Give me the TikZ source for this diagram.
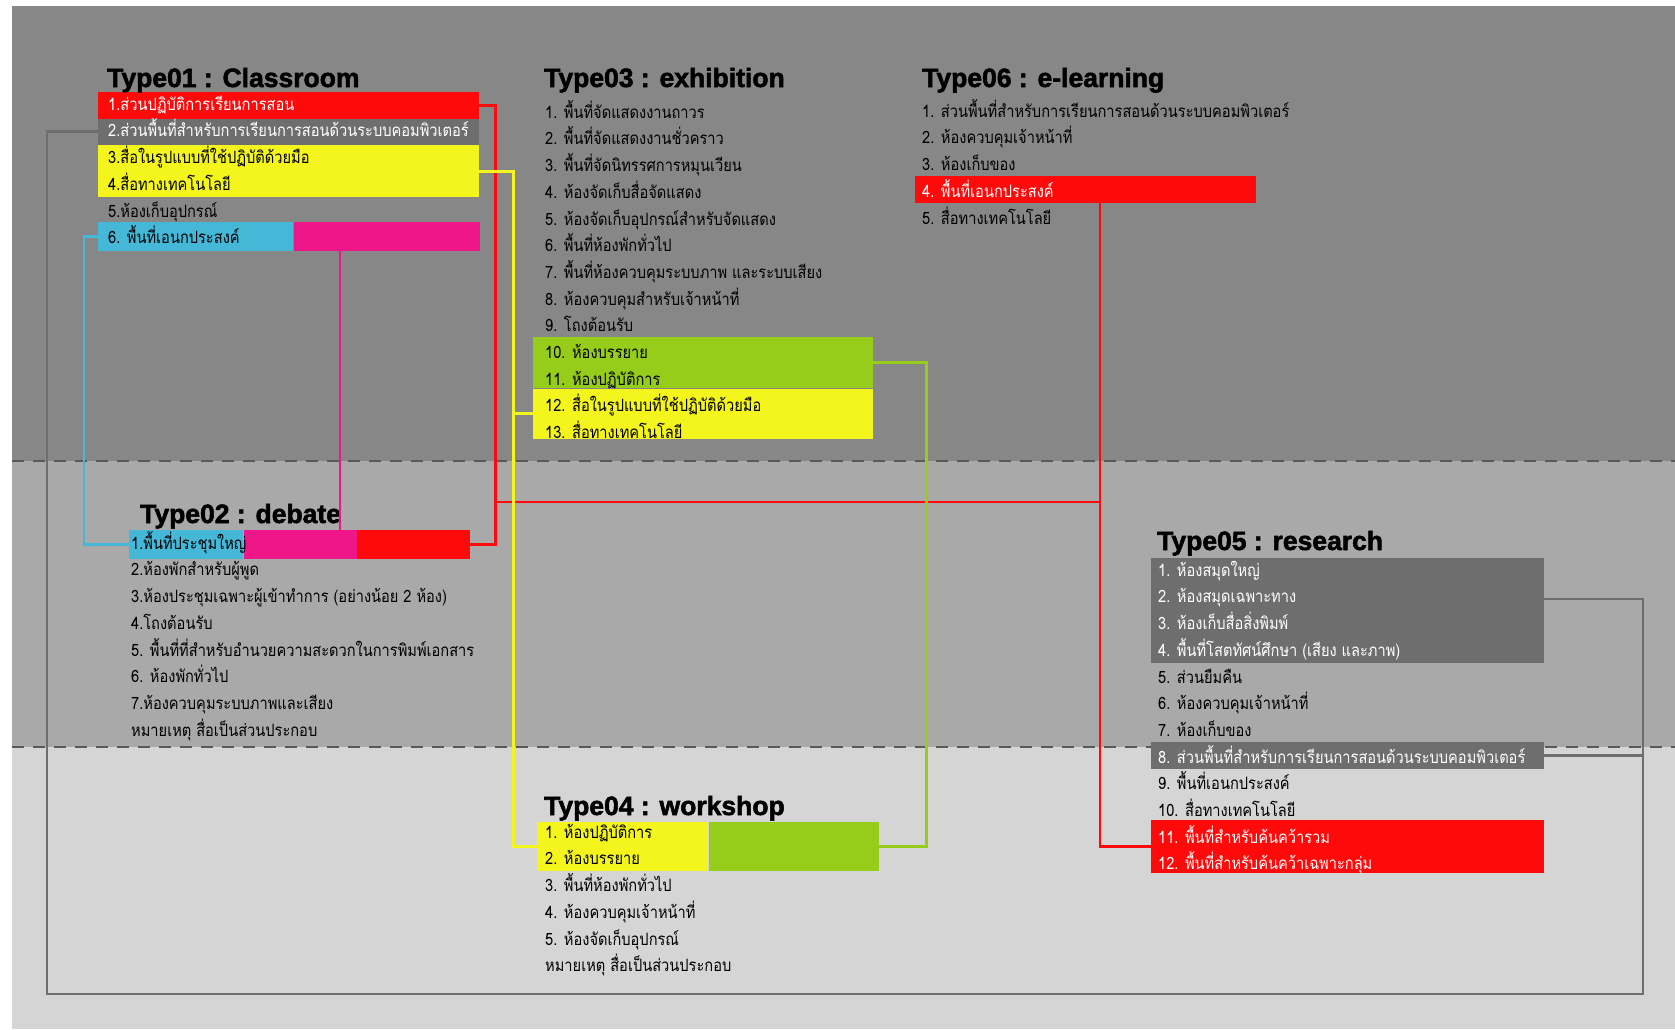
\documentclass[tikz,border=0pt]{standalone}
\usepackage{fontspec}
\newfontfamily\thaifont[Script=Thai, FakeStretch=0.86]{Loma}
\newfontfamily\titlefont{Liberation Sans}[BoldFeatures={FakeBold=2}]
\usetikzlibrary{positioning}

\definecolor{bandtop}{HTML}{878787}
\definecolor{bandmid}{HTML}{A9A9A9}
\definecolor{bandlow}{HTML}{D5D5D5}
\definecolor{boxgray}{HTML}{6E6E6E}
\definecolor{hlred}{HTML}{FF0A0A}
\definecolor{hlyellow}{HTML}{F5F51E}
\definecolor{hlgreen}{HTML}{96CD1A}
\definecolor{hlcyan}{HTML}{45B8D8}
\definecolor{hlmagenta}{HTML}{EE1689}

\begin{document}
\begin{tikzpicture}[x=1pt, y=-1pt,
		title/.style={anchor=base west, inner sep=0pt, font=\titlefont\bfseries\fontsize{26.5}{30}\selectfont},
		item/.style={anchor=north west, inner xsep=0pt, inner ysep=0pt, text height=17pt, text depth=9.3pt, font=\thaifont\fontsize{17}{20}\selectfont},
		rowafter/.style={below=0pt of #1.south west, anchor=north west},
		lite/.style={text=white},
		hl/.style={rectangle, fill=#1, inner sep=0pt, anchor=north west},
		link/.style={line width=2.8pt, draw=#1},
		sep/.style={dashed, dash pattern=on 12pt off 9pt, line width=1.4pt, draw=black!65}
	]
	\useasboundingbox (0,0) rectangle (1675,1029);

	% Bands
	\fill[bandtop] (12,6) rectangle (1675,461);
	\fill[bandmid] (12,461) rectangle (1675,747);
	\fill[bandlow] (12,747) rectangle (1675,1029);
	\draw[sep] (12,461) -- (1675,461);
	\draw[sep] (12,747) -- (1675,747);

	% Type01 : Classroom
	\node[hl=hlred, minimum width=381pt, minimum height=26.3pt] (c1red) at (98,92) {};
	\node[hl=boxgray, minimum width=381pt, minimum height=26.3pt] (c1gray) at (98,118.3) {};
	\node[hl=hlyellow, minimum width=381pt, minimum height=52.6pt] (c1yel) at (98,144.6) {};
	\node[hl=hlcyan, minimum width=195pt, minimum height=29pt] (c1cyan) at (98,222) {};
	\node[hl=hlmagenta, minimum width=186pt, minimum height=29pt, right=0pt of c1cyan] (c1mag) {};
	\node[title] (t1) at (107,87) {Type01 : Classroom};
	\node[item, lite] (c1) at (108,93) {1.ส่วนปฏิบัติการเรียนการสอน};
	\node[item, lite, rowafter=c1] (c2) {2.ส่วนพื้นที่สำหรับการเรียนการสอนด้วนระบบคอมพิวเตอร์};
	\node[item, rowafter=c2] (c3) {3.สื่อในรูปแบบที่ใช้ปฏิบัติด้วยมือ};
	\node[item, rowafter=c3] (c4) {4.สื่อทางเทคโนโลยี};
	\node[item, rowafter=c4] (c5) {5.ห้องเก็บอุปกรณ์};
	\node[item, rowafter=c5] (c6) {6. พื้นที่เอนกประสงค์};

	% Type02 : debate
	\node[hl=hlcyan, minimum width=114pt, minimum height=29pt] (d1cyan) at (129,530) {};
	\node[hl=hlmagenta, minimum width=113pt, minimum height=29pt, right=0pt of d1cyan] (d1mag) {};
	\node[hl=hlred, minimum width=113pt, minimum height=29pt, right=0pt of d1mag] (d1red) {};
	\node[title] (t2) at (140,523) {Type02 : debate};
	\node[item] (d1) at (131,532) {1.พื้นที่ประชุมใหญ่};
	\node[item, rowafter=d1] (d2) {2.ห้องพักสำหรับผู้พูด};
	\node[item, rowafter=d2] (d3) {3.ห้องประชุมเฉพาะผู้เข้าทำการ (อย่างน้อย 2 ห้อง)};
	\node[item, rowafter=d3] (d4) {4.โถงต้อนรับ};
	\node[item, rowafter=d4] (d5) {5. พื้นที่ที่สำหรับอำนวยความสะดวกในการพิมพ์เอกสาร};
	\node[item, rowafter=d5] (d6) {6. ห้องพักทั่วไป};
	\node[item, rowafter=d6] (d7) {7.ห้องควบคุมระบบภาพและเสียง};
	\node[item, rowafter=d7] (d8) {หมายเหตุ สื่อเป็นส่วนประกอบ};

	% Type03 : exhibition
	\node[hl=hlgreen, minimum width=340pt, minimum height=51pt] (e10green) at (533,337) {};
	\node[hl=hlyellow, minimum width=340pt, minimum height=50pt, rowafter=e10green] (e12yel) {};
	\node[title] (t3) at (544,87) {Type03 : exhibition};
	\node[item] (e1) at (545,101) {1. พื้นที่จัดแสดงงานถาวร};
	\node[item, rowafter=e1] (e2) {2. พื้นที่จัดแสดงงานชั่วคราว};
	\node[item, rowafter=e2] (e3) {3. พื้นที่จัดนิทรรศการหมุนเวียน};
	\node[item, rowafter=e3] (e4) {4. ห้องจัดเก็บสื่อจัดแสดง};
	\node[item, rowafter=e4] (e5) {5. ห้องจัดเก็บอุปกรณ์สำหรับจัดแสดง};
	\node[item, rowafter=e5] (e6) {6. พื้นที่ห้องพักทั่วไป};
	\node[item, rowafter=e6] (e7) {7. พื้นที่ห้องควบคุมระบบภาพ และระบบเสียง};
	\node[item, rowafter=e7] (e8) {8. ห้องควบคุมสำหรับเจ้าหน้าที่};
	\node[item, rowafter=e8] (e9) {9. โถงต้อนรับ};
	\node[item, rowafter=e9] (e10) {10. ห้องบรรยาย};
	\node[item, rowafter=e10] (e11) {11. ห้องปฏิบัติการ};
	\node[item, rowafter=e11] (e12) {12. สื่อในรูปแบบที่ใช้ปฏิบัติด้วยมือ};
	\node[item, rowafter=e12] (e13) {13. สื่อทางเทคโนโลยี};

	% Type04 : workshop
	\node[hl=hlyellow, minimum width=171pt, minimum height=49pt] (w1yel) at (537,822) {};
	\node[hl=hlgreen, minimum width=170pt, minimum height=49pt, right=0pt of w1yel] (w1green) {};
	\node[title] (t4) at (544,815) {Type04 : workshop};
	\node[item] (w1) at (545,821) {1. ห้องปฏิบัติการ};
	\node[item, rowafter=w1] (w2) {2. ห้องบรรยาย};
	\node[item, rowafter=w2] (w3) {3. พื้นที่ห้องพักทั่วไป};
	\node[item, rowafter=w3] (w4) {4. ห้องควบคุมเจ้าหน้าที่};
	\node[item, rowafter=w4] (w5) {5. ห้องจัดเก็บอุปกรณ์};
	\node[item, rowafter=w5] (w6) {หมายเหตุ สื่อเป็นส่วนประกอบ};

	% Type05 : research
	\node[hl=boxgray, minimum width=393pt, minimum height=105.2pt] (r1gray) at (1151,558) {};
	\node[hl=boxgray, minimum width=393pt, minimum height=26.3pt] (r8gray) at (1151,742) {};
	\node[hl=hlred, minimum width=393pt, minimum height=53pt] (r11red) at (1151,820) {};
	\node[title] (t5) at (1157,550) {Type05 : research};
	\node[item, lite] (r1) at (1158,559) {1. ห้องสมุดใหญ่};
	\node[item, lite, rowafter=r1] (r2) {2. ห้องสมุดเฉพาะทาง};
	\node[item, lite, rowafter=r2] (r3) {3. ห้องเก็บสื่อสิ่งพิมพ์};
	\node[item, lite, rowafter=r3] (r4) {4. พื้นที่โสตทัศน์ศึกษา (เสียง และภาพ)};
	\node[item, rowafter=r4] (r5) {5. ส่วนยืมคืน};
	\node[item, rowafter=r5] (r6) {6. ห้องควบคุมเจ้าหน้าที่};
	\node[item, rowafter=r6] (r7) {7. ห้องเก็บของ};
	\node[item, lite, rowafter=r7] (r8) {8. ส่วนพื้นที่สำหรับการเรียนการสอนด้วนระบบคอมพิวเตอร์};
	\node[item, rowafter=r8] (r9) {9. พื้นที่เอนกประสงค์};
	\node[item, rowafter=r9] (r10) {10. สื่อทางเทคโนโลยี};
	\node[item, lite, rowafter=r10] (r11) {11. พื้นที่สำหรับค้นคว้ารวม};
	\node[item, lite, rowafter=r11] (r12) {12. พื้นที่สำหรับค้นคว้าเฉพาะกลุ่ม};

	% Type06 : e-learning
	\node[hl=hlred, minimum width=341pt, minimum height=27pt] (l4red) at (915,176) {};
	\node[title] (t6) at (922,87) {Type06 : e-learning};
	\node[item] (l1) at (922,100) {1. ส่วนพื้นที่สำหรับการเรียนการสอนด้วนระบบคอมพิวเตอร์};
	\node[item, rowafter=l1] (l2) {2. ห้องควบคุมเจ้าหน้าที่};
	\node[item, rowafter=l2] (l3) {3. ห้องเก็บของ};
	\node[item, lite, rowafter=l3] (l4) {4. พื้นที่เอนกประสงค์};
	\node[item, rowafter=l4] (l5) {5. สื่อทางเทคโนโลยี};

	% Red links
	\draw[link=hlred] (c1red.east) -- ++(16,0) coordinate (redcol) |- (d1red.east);
	\coordinate (redturn) at (1100,502);
	\draw[link=hlred] (redcol |- redturn) -- (redturn);
	\draw[link=hlred] (l4red.south -| redturn) -- (redturn) |- (r11red.west);

	% Yellow links
	\draw[link=hlyellow] (c1yel.east) -- ++(34,0) coordinate (yelcol) |- (w1yel.west);
	\draw[link=hlyellow] (e12yel.west) -- (yelcol |- e12yel.west);

	% Green link
	\draw[link=hlgreen] (e10green.east) -- ++(53,0) |- (w1green.east);

	% Cyan and magenta links
	\draw[link=hlcyan] (c1cyan.west) -- ++(-14,0) |- (d1cyan.west);
	\coordinate (magcol) at (340,0);
	\draw[link=hlmagenta] (c1mag.south -| magcol) -- (d1mag.north -| magcol);

	% Gray loop
	\coordinate (loopbl) at (47,994);
	\coordinate (loopbr) at (1643,994);
	\draw[link=boxgray] (c1gray.west) -| (loopbl) -- (loopbr) |- (r1gray.east |- r2);
	\draw[link=boxgray] (r8gray.east) -- (loopbr |- r8gray.east);

\end{tikzpicture}
\end{document}
